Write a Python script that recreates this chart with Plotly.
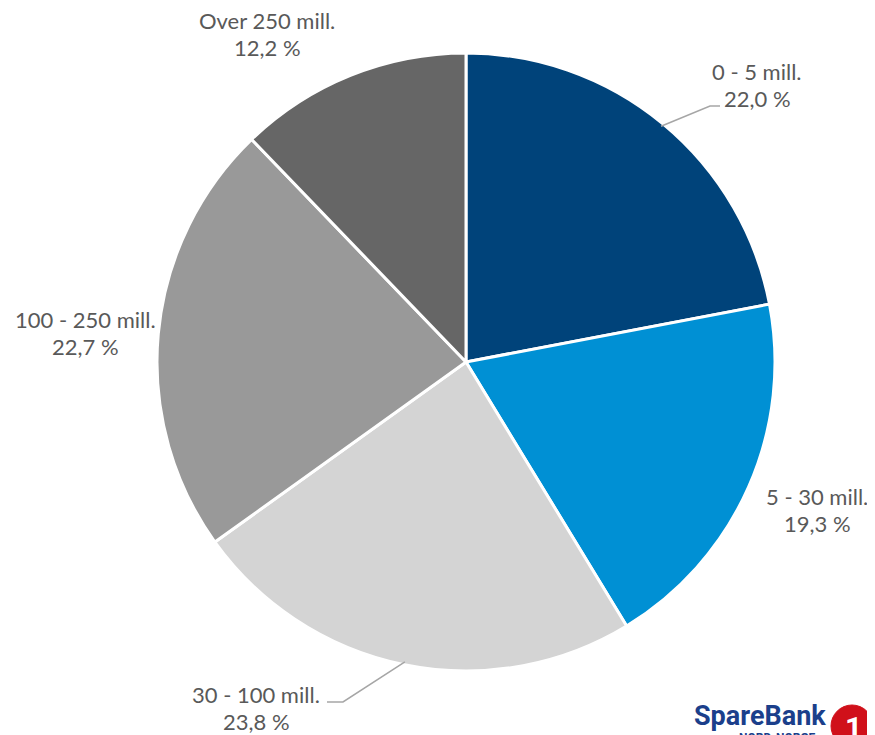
import math
import plotly.graph_objects as go

# ---- data ----
categories = ["0 - 5 mill.", "5 - 30 mill.", "30 - 100 mill.", "100 - 250 mill.", "Over 250 mill."]
shares = [22.0, 19.3, 23.8, 22.7, 12.2]
value_labels = ["22,0 %", "19,3 %", "23,8 %", "22,7 %", "12,2 %"]

# ---- styling / layout ----
W, H = 875, 735
OFF = 8  # page body margin
colors = ["#00437A", "#0090D4", "#D4D4D4", "#999999", "#666666"]
CX, CY, R = 466, 362, 306
R_DOMAIN = 309
TEXT_COLOR = "#595959"
FONT = "Lato"
FS = 22
# label block centres (px, screen) for each category
label_pos = [(757, 85), (817, 510), (256, 708), (85, 333), (267, 34)]
# leader elbow/end points (px), None when no leader
leaders = [((710, 106), (720, 106)), None, ((343, 702), (327, 702)), None, None]
LINE_GAP = 27


def px(x):
    return (x - OFF) / W


def py(y):
    return 1 - (y - OFF) / H


fig = go.Figure(go.Pie(
    labels=categories,
    values=shares,
    sort=False,
    direction="clockwise",
    rotation=0,
    marker=dict(colors=colors, line=dict(color="white", width=3)),
    textinfo="none",
    hoverinfo="label+percent",
    showlegend=False,
    domain=dict(x=[px(CX - R_DOMAIN), px(CX + R_DOMAIN)],
                y=[py(CY + R_DOMAIN), py(CY - R_DOMAIN)]),
))

annotations = []
shapes = []
total = sum(shares)
cum = 0
for i, (cat, v, vl) in enumerate(zip(categories, shares, value_labels)):
    mid = (cum + v / 2) / total * 2 * math.pi
    cum += v
    lx, ly = label_pos[i]
    annotations.append(dict(x=px(lx), y=py(ly - LINE_GAP / 2), xref="paper", yref="paper",
                            text=cat, showarrow=False, xanchor="center", yanchor="middle",
                            font=dict(family=FONT, size=FS, color=TEXT_COLOR)))
    annotations.append(dict(x=px(lx), y=py(ly + LINE_GAP / 2), xref="paper", yref="paper",
                            text=vl, showarrow=False, xanchor="center", yanchor="middle",
                            font=dict(family=FONT, size=FS, color=TEXT_COLOR)))
    if leaders[i]:
        ex = CX + R * math.sin(mid)
        ey = CY - R * math.cos(mid)
        (bx, by), (tx, ty) = leaders[i]
        shapes.append(dict(type="path", xref="paper", yref="paper",
                           path=f"M {px(ex)},{py(ey)} L {px(bx)},{py(by)} L {px(tx)},{py(ty)}",
                           line=dict(color="#A6A6A6", width=1.5)))

# logo
annotations.append(dict(x=px(692), y=py(716), xref="paper", yref="paper", text="<b>SpareBank</b>",
                        showarrow=False, xanchor="left", yanchor="middle",
                        font=dict(family="Roboto", size=27, color="#1B3F8B")))
annotations.append(dict(x=px(777), y=py(738), xref="paper", yref="paper", text="<b>NORD-NORGE</b>",
                        showarrow=False, xanchor="center", yanchor="middle",
                        font=dict(family="Roboto", size=12, color="#1B3F8B")))
shapes.append(dict(type="circle", xref="paper", yref="paper",
                   x0=px(831), x1=px(873), y0=py(747), y1=py(705),
                   fillcolor="#D0101A", line=dict(color="#D0101A", width=1)))
annotations.append(dict(x=px(853), y=py(727), xref="paper", yref="paper", text="<b>1</b>",
                        showarrow=False, xanchor="center", yanchor="middle",
                        font=dict(family="Roboto", size=30, color="white")))

fig.update_layout(
    width=W, height=H,
    margin=dict(l=0, r=0, t=0, b=0),
    paper_bgcolor="white",
    plot_bgcolor="white",
    annotations=annotations,
    shapes=shapes,
)

fig.write_html("out.html")
